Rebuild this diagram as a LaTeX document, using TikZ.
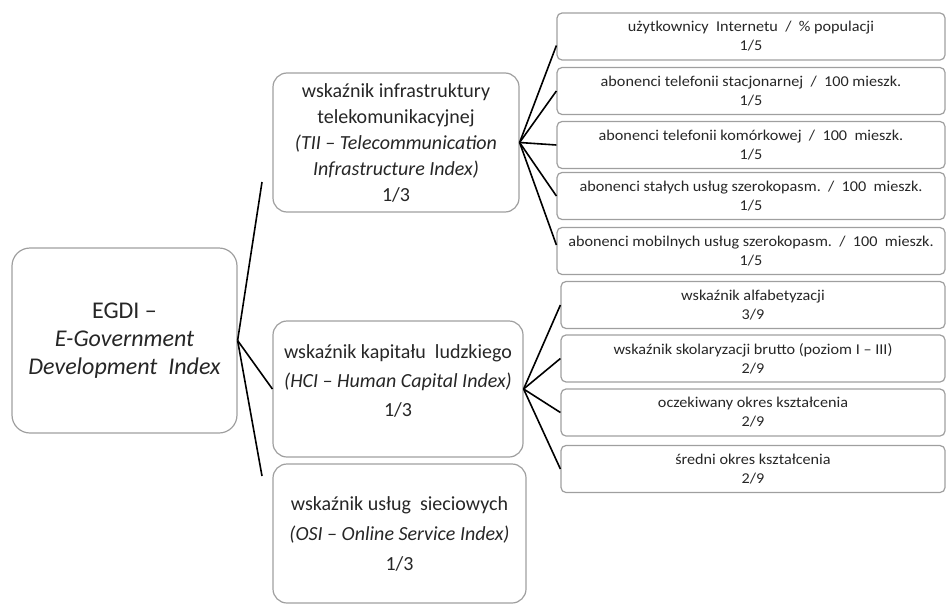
\documentclass[tikz,border=0pt]{standalone}
\usepackage{fontspec}
\setmainfont{Carlito}
\newfontfamily\leaffont[FakeStretch=1.08,Ligatures=TeX]{Carlito}
\begin{document}
\begin{tikzpicture}[x=1pt,y=-1pt,
  box/.style={draw=gray!75,line width=1.2pt,align=center,inner sep=0pt,text=black!85},
  rootbox/.style={box,rounded corners=18pt,font=\fontsize{24}{28}\selectfont},
  subbox/.style={box,rounded corners=14pt,font=\fontsize{20}{26}\selectfont},
  leaf/.style={box,rounded corners=5pt,minimum height=47,font=\leaffont\fontsize{15}{19}\selectfont},
  link/.style={line width=1.6pt}]
  \useasboundingbox (0,0) rectangle (947,605);
  \node[rootbox,minimum width=225,minimum height=185] (egdi) at (124.5,340.5)
    {EGDI --\\\textit{E-Government}\\\textit{Development\ \ Index}};
  \node[subbox,minimum width=246,minimum height=139] (tii) at (396,142.5)
    {wskaźnik infrastruktury\\telekomunikacyjnej\\\textit{(TII -- Telecommunication}\\\textit{Infrastructure Index)}\\1/3};
  \node[subbox,minimum width=250,minimum height=136,font=\fontsize{20}{29}\selectfont] (hci) at (398,389)
    {wskaźnik kapitału\ \ ludzkiego\\\textit{(HCI -- Human Capital Index)}\\1/3\\[-12pt]\mbox{}};
  \node[subbox,minimum width=253,minimum height=139,font=\fontsize{20}{30}\selectfont] (osi) at (399.5,533.5)
    {wskaźnik usług\ \ sieciowych\\\textit{(OSI -- Online Service Index)}\\1/3};
  % telecommunication indicators
  \node[leaf,minimum width=388] (internet) at (751,36.5) {użytkownicy\ \ Internetu\ \ /\ \ \% populacji\\1/5};
  \node[leaf,minimum width=388] (fixed) at (751,91) {abonenci telefonii stacjonarnej\ \ /\ \ 100 mieszk.\\1/5};
  \node[leaf,minimum width=388] (mobile) at (751,145) {abonenci telefonii komórkowej\ \ /\ \ 100\ \ mieszk.\\1/5};
  \node[leaf,minimum width=388] (fixedbb) at (751,196) {abonenci stałych usług szerokopasm.\ \ /\ \ 100\ \ mieszk.\\1/5};
  \node[leaf,minimum width=388] (mobilebb) at (751,251) {abonenci mobilnych usług szerokopasm.\ \ /\ \ 100\ \ mieszk.\\1/5};
  % human capital indicators
  \node[leaf,minimum width=384] (literacy) at (753,305) {wskaźnik alfabetyzacji\\3/9};
  \node[leaf,minimum width=384] (enrol) at (753,358.5) {wskaźnik skolaryzacji brutto (poziom I -- III)\\2/9};
  \node[leaf,minimum width=384] (expected) at (753,412.5) {oczekiwany okres kształcenia\\2/9};
  \node[leaf,minimum width=384] (mean) at (753,469) {średni okres kształcenia\\2/9};
  \coordinate (tiiend) at (262,182);
  \coordinate (osiend) at (262,476);
  \draw[link] (egdi.east) -- (tiiend);
  \draw[link] (egdi.east) -- (hci.west);
  \draw[link] (egdi.east) -- (osiend);
  \draw[link] (tii.east) -- ([yshift=-9]internet.west);
  \foreach \b in {fixed,mobile,fixedbb} \draw[link] (tii.east) -- (\b.west);
  \draw[link] (tii.east) -- ([yshift=6]mobilebb.west);
  \foreach \b in {literacy,enrol,expected,mean} \draw[link] (hci.east) -- (\b.west);
\end{tikzpicture}
\end{document}
